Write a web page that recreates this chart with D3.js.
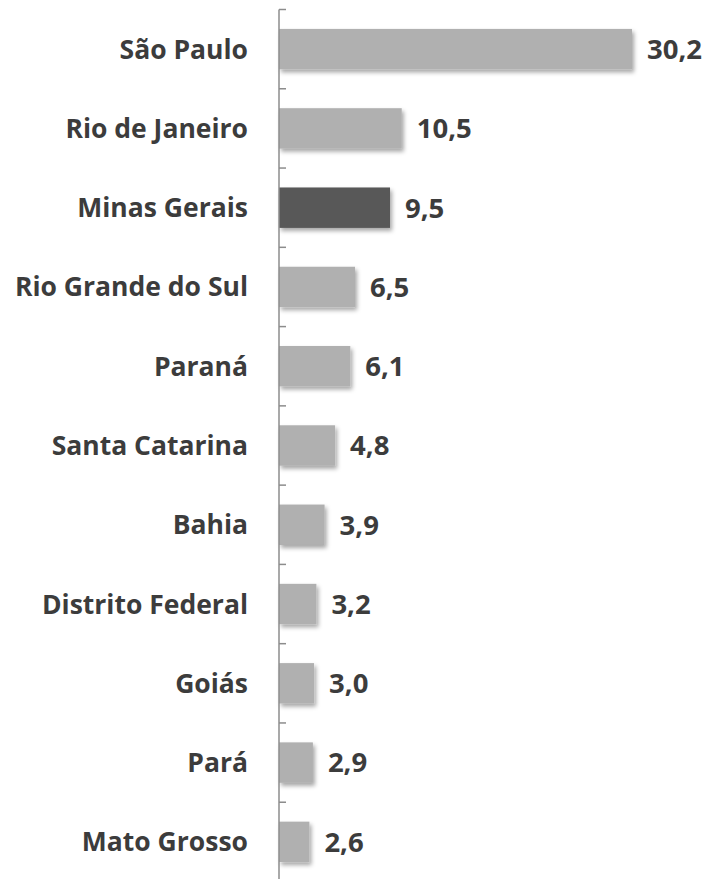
<!DOCTYPE html>
<html>
<head>
<meta charset="utf-8">
<script src="https://cdn.jsdelivr.net/npm/d3@7"></script>
<style>
  body { margin: 0; background: #fff; }
  text { font-family: "Open Sans", sans-serif; font-weight: 700; fill: #3c3c3c; }
</style>
</head>
<body>
<svg id="chart" width="706" height="879"></svg>
<script>
var states = ['São Paulo', 'Rio de Janeiro', 'Minas Gerais', 'Rio Grande do Sul', 'Paraná',
  'Santa Catarina', 'Bahia', 'Distrito Federal', 'Goiás', 'Pará', 'Mato Grosso'];
var shares = [30.2, 10.5, 9.5, 6.5, 6.1, 4.8, 3.9, 3.2, 3.0, 2.9, 2.6];
var highlight = ['Minas Gerais'];

var svg = d3.select('#chart'),
  axisX = 279;

var x = d3.scaleLinear()
  .domain([0, 30.2])
  .range([axisX, 632]);

var y = d3.scaleBand()
  .domain(states)
  .range([9.5, 881.5])
  .paddingInner(0.49)
  .paddingOuter(0.245);

var data = states.map(function (s, i) { return { state: s, value: shares[i] }; });

// shadow
var defs = svg.append('defs');
defs.append('filter')
  .attr('id', 'shadow')
  .attr('x', '-10%').attr('y', '-20%')
  .attr('width', '130%').attr('height', '160%')
  .append('feDropShadow')
  .attr('dx', 2).attr('dy', 3)
  .attr('stdDeviation', 2)
  .attr('flood-color', '#000')
  .attr('flood-opacity', 0.35);

// Bars -------------------- //
svg.selectAll('rect.bar')
  .data(data)
  .enter()
  .append('rect')
  .attr('class', 'bar')
  .attr('x', x(0))
  .attr('y', function (d) { return y(d.state); })
  .attr('width', function (d) { return x(d.value) - x(0); })
  .attr('height', y.bandwidth())
  .attr('filter', 'url(#shadow)')
  .style('fill', function (d) {
    return highlight.indexOf(d.state) >= 0 ? '#585858' : '#b0b0b0';
  });

// Axis -------------------- //
var step = y.step(),
  bounds = d3.range(states.length + 1).map(function (i) { return 9.5 + i * step; });

var axis = svg.append('g').attr('class', 'axis');
axis.append('line')
  .attr('x1', axisX).attr('x2', axisX)
  .attr('y1', 9.5).attr('y2', 881.5)
  .style('stroke', '#8c8c8c')
  .style('stroke-width', 1.5);
axis.selectAll('line.tick')
  .data(bounds)
  .enter()
  .append('line')
  .attr('class', 'tick')
  .attr('x1', axisX).attr('x2', axisX + 7)
  .attr('y1', function (d) { return d; })
  .attr('y2', function (d) { return d; })
  .style('stroke', '#8c8c8c')
  .style('stroke-width', 1.5);

// Labels ----------------------- //
svg.selectAll('text.cat')
  .data(data)
  .enter()
  .append('text')
  .attr('class', 'cat')
  .attr('x', 248)
  .attr('y', function (d) { return y(d.state) + y.bandwidth() / 2; })
  .attr('dy', '0.36em')
  .attr('text-anchor', 'end')
  .style('font-size', '26.5px')
  .text(function (d) { return d.state; });

svg.selectAll('text.val')
  .data(data)
  .enter()
  .append('text')
  .attr('class', 'val')
  .attr('x', function (d) { return x(d.value) + 15; })
  .attr('y', function (d) { return y(d.state) + y.bandwidth() / 2; })
  .attr('dy', '0.36em')
  .style('font-size', '27.5px')
  .text(function (d) { return d3.format('.1f')(d.value).replace('.', ','); });
</script>
</body>
</html>
